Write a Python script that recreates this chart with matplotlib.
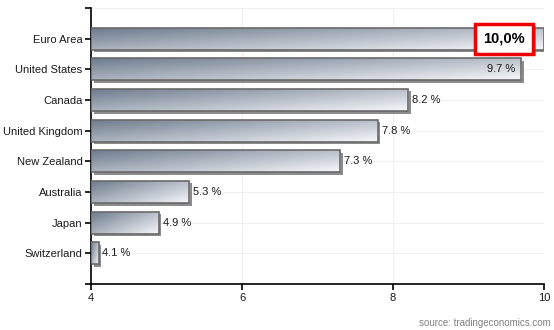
import numpy as np
import matplotlib.pyplot as plt
import matplotlib.patheffects as pe
from matplotlib.patches import Rectangle
from matplotlib.transforms import ScaledTranslation

countries = ['Euro Area', 'United States', 'Canada', 'United Kingdom',
             'New Zealand', 'Australia', 'Japan', 'Switzerland']
rates = [10.0, 9.7, 8.2, 7.8, 7.3, 5.3, 4.9, 4.1]
xticks = [4, 6, 8, 10]

plt.rcParams['font.family'] = ['Liberation Sans', 'DejaVu Sans']

fig = plt.figure(figsize=(5.54, 3.30), dpi=100)
ax = fig.add_axes([91 / 554, 1 - 284 / 330, 453 / 554, 276 / 330])

x0 = 4
h = 0.72
dark = np.array([108, 122, 140]) / 255
light = np.array([246, 247, 250]) / 255

gx = np.linspace(0, 1, 120)[None, :]
gy = np.linspace(0, 1, 30)[:, None]
t = 0.55 * gx + 0.45 * gy
grad = dark[None, None, :] * (1 - t[..., None]) + light[None, None, :] * t[..., None]

shadow_tr = ax.transData + ScaledTranslation(2.5 / 100, -2.5 / 100, fig.dpi_scale_trans)

for i, v in enumerate(rates):
    # drop shadow
    ax.add_patch(Rectangle((x0, i - h / 2), v - x0, h, transform=shadow_tr,
                           facecolor='#8c8c8c', edgecolor='none', zorder=2))
    # gradient fill, clipped to the bar
    frame = Rectangle((x0, i - h / 2), v - x0, h, facecolor='none',
                      edgecolor='#6a6a6a', lw=1.2, zorder=4)
    ax.add_patch(frame)
    im = ax.imshow(grad, extent=(x0, v, i + h / 2, i - h / 2), origin='upper',
                   aspect='auto', zorder=3, interpolation='bilinear')
    im.set_clip_path(frame)

    if i == 0:
        continue
    if v > 9.5:
        ax.text(v - 0.08, i, f'{v} %', ha='right', va='center',
                fontsize=8, color='#1a1a1a', zorder=5)
    else:
        ax.text(v + 0.05, i, f'{v} %', ha='left', va='center',
                fontsize=8, color='#1a1a1a', zorder=5)

# highlighted value for the top bar
badge = ax.text(9.47, 0, '10,0%', ha='center', va='center', fontsize=10.5,
                fontweight='bold', color='black', zorder=6,
                bbox=dict(boxstyle='square,pad=0.55', facecolor='white',
                          edgecolor='#ee0000', lw=2.5))
badge.get_bbox_patch().set_path_effects(
    [pe.SimplePatchShadow(offset=(2, -2), shadow_rgbFace='#555555', alpha=0.5),
     pe.Normal()])

ax.set_xlim(4, 10)
ax.set_ylim(8, -1)
ax.set_xticks(xticks)
ax.set_xticklabels([str(x) for x in xticks], fontsize=8)
ax.set_yticks(range(-1, 9))
ax.set_yticklabels([''] + countries + [''], fontsize=8)

ax.grid(True, color='#efefef', lw=0.8, zorder=0)
ax.set_axisbelow(True)
for s in ['top', 'right']:
    ax.spines[s].set_visible(False)
for s in ['left', 'bottom']:
    ax.spines[s].set_linewidth(1.2)
ax.tick_params(axis='both', direction='out', length=4.3, width=1.2, pad=1.8,
               colors='black', labelcolor='#1a1a1a')
ax.tick_params(axis='x', pad=2.5)

fig.text(551 / 554, 1 - 323 / 330, 'source: tradingeconomics.com',
         ha='right', va='center', fontsize=7, color='#808080')

fig.savefig('out.png', dpi=100)
